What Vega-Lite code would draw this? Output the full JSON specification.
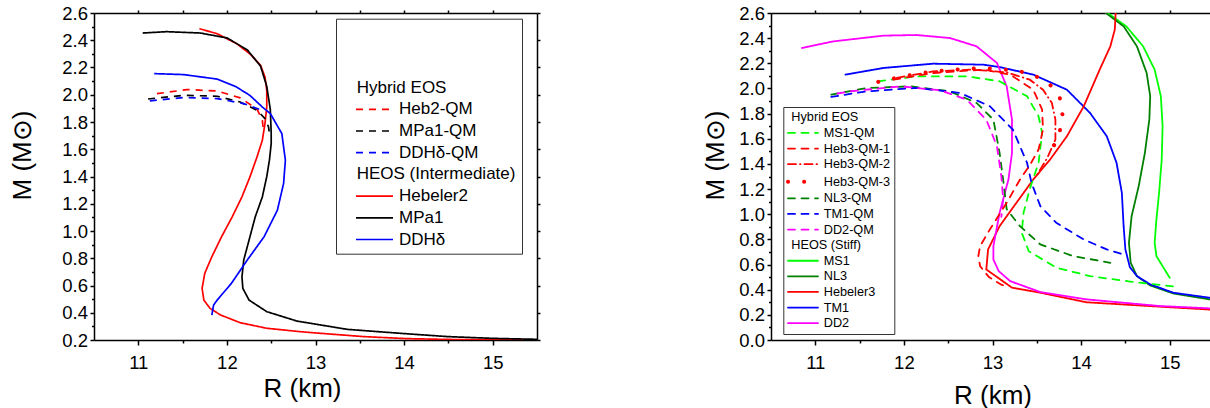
{
  "$schema": "https://vega.github.io/schema/vega-lite/v6.json",
  "padding": {"left": 9, "top": 4, "right": 0, "bottom": 0},
  "background": "white",
  "config": {
    "view": {"stroke": null},
    "font": "Liberation Sans",
    "axis": {"domainColor": "black", "domainWidth": 1.5, "ticks": true, "tickColor": "black", "tickOpacity": 1, "tickWidth": 1.5, "labelFont": "Liberation Sans", "labelFontSize": 18.5, "labelColor": "black", "titleFont": "Liberation Sans", "titleFontSize": 26, "titleFontWeight": "normal", "titleColor": "black", "grid": false, "labelOverlap": false, "labelFlush": false},
    "legend": {"labelFont": "Liberation Sans", "labelColor": "black", "titleFont": "Liberation Sans", "strokeColor": "#333333", "fillColor": "white", "labelLimit": 400}
  },
  "datasets": {
    "left": [
      {"s": "Hebeler2", "R": 11.69, "M": 2.485}, {"s": "Hebeler2", "R": 11.89, "M": 2.448}, {"s": "Hebeler2", "R": 12.11, "M": 2.375}, {"s": "Hebeler2", "R": 12.26, "M": 2.30}, {"s": "Hebeler2", "R": 12.38, "M": 2.216}, {"s": "Hebeler2", "R": 12.43, "M": 2.13}, {"s": "Hebeler2", "R": 12.45, "M": 2.03}, {"s": "Hebeler2", "R": 12.45, "M": 1.91}, {"s": "Hebeler2", "R": 12.43, "M": 1.79}, {"s": "Hebeler2", "R": 12.40, "M": 1.666}, {"s": "Hebeler2", "R": 12.34, "M": 1.544}, {"s": "Hebeler2", "R": 12.26, "M": 1.397}, {"s": "Hebeler2", "R": 12.17, "M": 1.251}, {"s": "Hebeler2", "R": 12.06, "M": 1.104}, {"s": "Hebeler2", "R": 11.94, "M": 0.958}, {"s": "Hebeler2", "R": 11.83, "M": 0.811}, {"s": "Hebeler2", "R": 11.75, "M": 0.689}, {"s": "Hebeler2", "R": 11.72, "M": 0.579}, {"s": "Hebeler2", "R": 11.74, "M": 0.493}, {"s": "Hebeler2", "R": 11.81, "M": 0.432}, {"s": "Hebeler2", "R": 11.93, "M": 0.383}, {"s": "Hebeler2", "R": 12.15, "M": 0.327}, {"s": "Hebeler2", "R": 12.45, "M": 0.286}, {"s": "Hebeler2", "R": 12.83, "M": 0.261}, {"s": "Hebeler2", "R": 13.0, "M": 0.252}, {"s": "Hebeler2", "R": 13.54, "M": 0.225}, {"s": "Hebeler2", "R": 14.03, "M": 0.21}, {"s": "Hebeler2", "R": 14.6, "M": 0.203}, {"s": "Hebeler2", "R": 15.5, "M": 0.2},
      {"s": "MPa1", "R": 11.05, "M": 2.453}, {"s": "MPa1", "R": 11.32, "M": 2.463}, {"s": "MPa1", "R": 11.70, "M": 2.453}, {"s": "MPa1", "R": 12.0, "M": 2.417}, {"s": "MPa1", "R": 12.23, "M": 2.33}, {"s": "MPa1", "R": 12.38, "M": 2.21}, {"s": "MPa1", "R": 12.45, "M": 2.062}, {"s": "MPa1", "R": 12.49, "M": 1.891}, {"s": "MPa1", "R": 12.50, "M": 1.72}, {"s": "MPa1", "R": 12.50, "M": 1.642}, {"s": "MPa1", "R": 12.48, "M": 1.52}, {"s": "MPa1", "R": 12.45, "M": 1.40}, {"s": "MPa1", "R": 12.40, "M": 1.25}, {"s": "MPa1", "R": 12.32, "M": 1.104}, {"s": "MPa1", "R": 12.25, "M": 0.933}, {"s": "MPa1", "R": 12.19, "M": 0.787}, {"s": "MPa1", "R": 12.17, "M": 0.664}, {"s": "MPa1", "R": 12.18, "M": 0.579}, {"s": "MPa1", "R": 12.25, "M": 0.493}, {"s": "MPa1", "R": 12.45, "M": 0.408}, {"s": "MPa1", "R": 12.79, "M": 0.339}, {"s": "MPa1", "R": 13.36, "M": 0.278}, {"s": "MPa1", "R": 14.0, "M": 0.247}, {"s": "MPa1", "R": 14.49, "M": 0.225}, {"s": "MPa1", "R": 15.0, "M": 0.212}, {"s": "MPa1", "R": 15.5, "M": 0.205},
      {"s": "DDHδ", "R": 11.18, "M": 2.155}, {"s": "DDHδ", "R": 11.51, "M": 2.148}, {"s": "DDHδ", "R": 11.89, "M": 2.115}, {"s": "DDHδ", "R": 12.10, "M": 2.06}, {"s": "DDHδ", "R": 12.26, "M": 1.995}, {"s": "DDHδ", "R": 12.40, "M": 1.91}, {"s": "DDHδ", "R": 12.49, "M": 1.862}, {"s": "DDHδ", "R": 12.62, "M": 1.715}, {"s": "DDHδ", "R": 12.66, "M": 1.52}, {"s": "DDHδ", "R": 12.64, "M": 1.349}, {"s": "DDHδ", "R": 12.57, "M": 1.153}, {"s": "DDHδ", "R": 12.42, "M": 0.958}, {"s": "DDHδ", "R": 12.23, "M": 0.787}, {"s": "DDHδ", "R": 12.05, "M": 0.615}, {"s": "DDHδ", "R": 11.89, "M": 0.493}, {"s": "DDHδ", "R": 11.85, "M": 0.457}, {"s": "DDHδ", "R": 11.83, "M": 0.383},
      {"s": "Heb2-QM", "R": 11.21, "M": 2.008}, {"s": "Heb2-QM", "R": 11.55, "M": 2.038}, {"s": "Heb2-QM", "R": 11.89, "M": 2.028}, {"s": "Heb2-QM", "R": 12.15, "M": 1.977}, {"s": "Heb2-QM", "R": 12.34, "M": 1.895}, {"s": "Heb2-QM", "R": 12.40, "M": 1.813}, {"s": "Heb2-QM", "R": 12.41, "M": 1.752},
      {"s": "MPa1-QM", "R": 11.11, "M": 1.969}, {"s": "MPa1-QM", "R": 11.51, "M": 1.996}, {"s": "MPa1-QM", "R": 11.89, "M": 1.989}, {"s": "MPa1-QM", "R": 12.15, "M": 1.947}, {"s": "MPa1-QM", "R": 12.34, "M": 1.886}, {"s": "MPa1-QM", "R": 12.43, "M": 1.825}, {"s": "MPa1-QM", "R": 12.47, "M": 1.764}, {"s": "MPa1-QM", "R": 12.48, "M": 1.715},
      {"s": "DDHδ-QM", "R": 11.13, "M": 1.955}, {"s": "DDHδ-QM", "R": 11.51, "M": 1.979}, {"s": "DDHδ-QM", "R": 11.89, "M": 1.972}, {"s": "DDHδ-QM", "R": 12.19, "M": 1.935}, {"s": "DDHδ-QM", "R": 12.38, "M": 1.89}
    ],
    "right": [
      {"s": "MS1", "R": 14.30, "M": 2.6}, {"s": "MS1", "R": 14.51, "M": 2.494}, {"s": "MS1", "R": 14.70, "M": 2.335}, {"s": "MS1", "R": 14.83, "M": 2.15}, {"s": "MS1", "R": 14.90, "M": 1.938}, {"s": "MS1", "R": 14.92, "M": 1.70}, {"s": "MS1", "R": 14.91, "M": 1.435}, {"s": "MS1", "R": 14.88, "M": 1.17}, {"s": "MS1", "R": 14.85, "M": 0.958}, {"s": "MS1", "R": 14.83, "M": 0.773}, {"s": "MS1", "R": 14.85, "M": 0.667}, {"s": "MS1", "R": 14.93, "M": 0.575}, {"s": "MS1", "R": 15.0, "M": 0.495},
      {"s": "NL3", "R": 14.28, "M": 2.6}, {"s": "NL3", "R": 14.48, "M": 2.494}, {"s": "NL3", "R": 14.63, "M": 2.335}, {"s": "NL3", "R": 14.74, "M": 2.123}, {"s": "NL3", "R": 14.78, "M": 1.938}, {"s": "NL3", "R": 14.77, "M": 1.752}, {"s": "NL3", "R": 14.72, "M": 1.488}, {"s": "NL3", "R": 14.65, "M": 1.223}, {"s": "NL3", "R": 14.57, "M": 0.984}, {"s": "NL3", "R": 14.54, "M": 0.773}, {"s": "NL3", "R": 14.56, "M": 0.614}, {"s": "NL3", "R": 14.63, "M": 0.508}, {"s": "NL3", "R": 14.78, "M": 0.434}, {"s": "NL3", "R": 15.04, "M": 0.37}, {"s": "NL3", "R": 15.45, "M": 0.323}, {"s": "NL3", "R": 15.5, "M": 0.318},
      {"s": "TM1", "R": 11.34, "M": 2.11}, {"s": "TM1", "R": 11.77, "M": 2.163}, {"s": "TM1", "R": 12.33, "M": 2.197}, {"s": "TM1", "R": 12.90, "M": 2.189}, {"s": "TM1", "R": 13.08, "M": 2.17}, {"s": "TM1", "R": 13.46, "M": 2.11}, {"s": "TM1", "R": 13.84, "M": 1.99}, {"s": "TM1", "R": 14.10, "M": 1.806}, {"s": "TM1", "R": 14.29, "M": 1.62}, {"s": "TM1", "R": 14.40, "M": 1.409}, {"s": "TM1", "R": 14.46, "M": 1.17}, {"s": "TM1", "R": 14.48, "M": 0.905}, {"s": "TM1", "R": 14.50, "M": 0.72}, {"s": "TM1", "R": 14.55, "M": 0.58}, {"s": "TM1", "R": 14.63, "M": 0.508}, {"s": "TM1", "R": 14.78, "M": 0.442}, {"s": "TM1", "R": 15.04, "M": 0.376}, {"s": "TM1", "R": 15.45, "M": 0.336}, {"s": "TM1", "R": 15.5, "M": 0.333},
      {"s": "Hebeler3", "R": 14.39, "M": 2.6}, {"s": "Hebeler3", "R": 14.38, "M": 2.467}, {"s": "Hebeler3", "R": 14.33, "M": 2.335}, {"s": "Hebeler3", "R": 14.21, "M": 2.15}, {"s": "Hebeler3", "R": 14.03, "M": 1.858}, {"s": "Hebeler3", "R": 13.84, "M": 1.62}, {"s": "Hebeler3", "R": 13.65, "M": 1.435}, {"s": "Hebeler3", "R": 13.46, "M": 1.276}, {"s": "Hebeler3", "R": 13.27, "M": 1.091}, {"s": "Hebeler3", "R": 13.08, "M": 0.905}, {"s": "Hebeler3", "R": 12.95, "M": 0.72}, {"s": "Hebeler3", "R": 12.93, "M": 0.561}, {"s": "Hebeler3", "R": 13.22, "M": 0.416}, {"s": "Hebeler3", "R": 13.54, "M": 0.376}, {"s": "Hebeler3", "R": 14.06, "M": 0.30}, {"s": "Hebeler3", "R": 14.89, "M": 0.265}, {"s": "Hebeler3", "R": 15.5, "M": 0.24},
      {"s": "DD2", "R": 10.85, "M": 2.322}, {"s": "DD2", "R": 11.20, "M": 2.374}, {"s": "DD2", "R": 11.77, "M": 2.42}, {"s": "DD2", "R": 12.14, "M": 2.425}, {"s": "DD2", "R": 12.52, "M": 2.401}, {"s": "DD2", "R": 12.82, "M": 2.335}, {"s": "DD2", "R": 13.05, "M": 2.203}, {"s": "DD2", "R": 13.16, "M": 2.017}, {"s": "DD2", "R": 13.22, "M": 1.752}, {"s": "DD2", "R": 13.22, "M": 1.488}, {"s": "DD2", "R": 13.18, "M": 1.276}, {"s": "DD2", "R": 13.08, "M": 1.011}, {"s": "DD2", "R": 13.01, "M": 0.746}, {"s": "DD2", "R": 13.01, "M": 0.64}, {"s": "DD2", "R": 13.07, "M": 0.548}, {"s": "DD2", "R": 13.20, "M": 0.468}, {"s": "DD2", "R": 13.54, "M": 0.381}, {"s": "DD2", "R": 14.06, "M": 0.323}, {"s": "DD2", "R": 14.89, "M": 0.27}, {"s": "DD2", "R": 15.5, "M": 0.25},
      {"s": "MS1-QM", "R": 11.71, "M": 2.057}, {"s": "MS1-QM", "R": 12.14, "M": 2.096}, {"s": "MS1-QM", "R": 12.71, "M": 2.096}, {"s": "MS1-QM", "R": 13.08, "M": 2.057}, {"s": "MS1-QM", "R": 13.39, "M": 1.938}, {"s": "MS1-QM", "R": 13.52, "M": 1.779}, {"s": "MS1-QM", "R": 13.56, "M": 1.647}, {"s": "MS1-QM", "R": 13.52, "M": 1.409}, {"s": "MS1-QM", "R": 13.42, "M": 1.20}, {"s": "MS1-QM", "R": 13.35, "M": 1.011}, {"s": "MS1-QM", "R": 13.33, "M": 0.853}, {"s": "MS1-QM", "R": 13.41, "M": 0.706}, {"s": "MS1-QM", "R": 13.72, "M": 0.575}, {"s": "MS1-QM", "R": 14.10, "M": 0.508}, {"s": "MS1-QM", "R": 14.55, "M": 0.465}, {"s": "MS1-QM", "R": 15.05, "M": 0.425},
      {"s": "NL3-QM", "R": 11.18, "M": 1.951}, {"s": "NL3-QM", "R": 11.58, "M": 2.004}, {"s": "NL3-QM", "R": 12.07, "M": 2.017}, {"s": "NL3-QM", "R": 12.52, "M": 1.977}, {"s": "NL3-QM", "R": 12.82, "M": 1.885}, {"s": "NL3-QM", "R": 13.01, "M": 1.752}, {"s": "NL3-QM", "R": 13.08, "M": 1.488}, {"s": "NL3-QM", "R": 13.12, "M": 1.276}, {"s": "NL3-QM", "R": 13.16, "M": 1.04}, {"s": "NL3-QM", "R": 13.31, "M": 0.905}, {"s": "NL3-QM", "R": 13.54, "M": 0.76}, {"s": "NL3-QM", "R": 13.91, "M": 0.667}, {"s": "NL3-QM", "R": 14.33, "M": 0.614},
      {"s": "TM1-QM", "R": 11.18, "M": 1.933}, {"s": "TM1-QM", "R": 11.58, "M": 1.977}, {"s": "TM1-QM", "R": 12.14, "M": 2.004}, {"s": "TM1-QM", "R": 12.63, "M": 1.965}, {"s": "TM1-QM", "R": 12.97, "M": 1.859}, {"s": "TM1-QM", "R": 13.23, "M": 1.673}, {"s": "TM1-QM", "R": 13.39, "M": 1.409}, {"s": "TM1-QM", "R": 13.44, "M": 1.25}, {"s": "TM1-QM", "R": 13.54, "M": 1.064}, {"s": "TM1-QM", "R": 13.72, "M": 0.932}, {"s": "TM1-QM", "R": 14.03, "M": 0.799}, {"s": "TM1-QM", "R": 14.29, "M": 0.72}, {"s": "TM1-QM", "R": 14.48, "M": 0.68},
      {"s": "DD2-QM", "R": 11.25, "M": 1.96}, {"s": "DD2-QM", "R": 11.39, "M": 1.977}, {"s": "DD2-QM", "R": 11.96, "M": 2.017}, {"s": "DD2-QM", "R": 12.41, "M": 1.985}, {"s": "DD2-QM", "R": 12.71, "M": 1.911}, {"s": "DD2-QM", "R": 12.93, "M": 1.752}, {"s": "DD2-QM", "R": 13.05, "M": 1.541}, {"s": "DD2-QM", "R": 13.10, "M": 1.302}, {"s": "DD2-QM", "R": 13.12, "M": 1.117}, {"s": "DD2-QM", "R": 13.10, "M": 0.98},
      {"s": "Heb3-QM-1", "R": 11.88, "M": 2.07}, {"s": "Heb3-QM-1", "R": 12.33, "M": 2.123}, {"s": "Heb3-QM-1", "R": 12.90, "M": 2.15}, {"s": "Heb3-QM-1", "R": 13.20, "M": 2.11}, {"s": "Heb3-QM-1", "R": 13.46, "M": 1.99}, {"s": "Heb3-QM-1", "R": 13.56, "M": 1.832}, {"s": "Heb3-QM-1", "R": 13.57, "M": 1.673}, {"s": "Heb3-QM-1", "R": 13.52, "M": 1.515}, {"s": "Heb3-QM-1", "R": 13.43, "M": 1.40}, {"s": "Heb3-QM-1", "R": 13.31, "M": 1.276}, {"s": "Heb3-QM-1", "R": 13.16, "M": 1.091}, {"s": "Heb3-QM-1", "R": 12.97, "M": 0.879}, {"s": "Heb3-QM-1", "R": 12.86, "M": 0.746}, {"s": "Heb3-QM-1", "R": 12.84, "M": 0.667}, {"s": "Heb3-QM-1", "R": 12.86, "M": 0.587}, {"s": "Heb3-QM-1", "R": 12.96, "M": 0.50}, {"s": "Heb3-QM-1", "R": 13.10, "M": 0.44}, {"s": "Heb3-QM-1", "R": 13.18, "M": 0.42},
      {"s": "Heb3-QM-2", "R": 11.92, "M": 2.084}, {"s": "Heb3-QM-2", "R": 12.33, "M": 2.136}, {"s": "Heb3-QM-2", "R": 12.78, "M": 2.15}, {"s": "Heb3-QM-2", "R": 13.16, "M": 2.128}, {"s": "Heb3-QM-2", "R": 13.42, "M": 2.07}, {"s": "Heb3-QM-2", "R": 13.57, "M": 1.99}, {"s": "Heb3-QM-2", "R": 13.67, "M": 1.885}, {"s": "Heb3-QM-2", "R": 13.71, "M": 1.752}, {"s": "Heb3-QM-2", "R": 13.71, "M": 1.594}, {"s": "Heb3-QM-2", "R": 13.62, "M": 1.45}, {"s": "Heb3-QM-2", "R": 13.50, "M": 1.31},
      {"s": "Heb3-QM-3", "R": 11.71, "M": 2.052}, {"s": "Heb3-QM-3", "R": 11.96, "M": 2.092}, {"s": "Heb3-QM-3", "R": 12.26, "M": 2.128}, {"s": "Heb3-QM-3", "R": 12.48, "M": 2.144}, {"s": "Heb3-QM-3", "R": 12.67, "M": 2.155}, {"s": "Heb3-QM-3", "R": 12.90, "M": 2.163}, {"s": "Heb3-QM-3", "R": 13.27, "M": 2.142}, {"s": "Heb3-QM-3", "R": 13.46, "M": 2.11}, {"s": "Heb3-QM-3", "R": 13.65, "M": 2.03}, {"s": "Heb3-QM-3", "R": 13.76, "M": 1.925}, {"s": "Heb3-QM-3", "R": 13.79, "M": 1.792}, {"s": "Heb3-QM-3", "R": 13.76, "M": 1.66}, {"s": "Heb3-QM-3", "R": 13.69, "M": 1.54}, {"s": "Heb3-QM-3", "R": 13.62, "M": 1.44}
    ]
  },
  "spacing": 234,
  "bounds": "flush",
  "resolve": {"scale": {"color": "independent", "strokeDash": "independent"}},
  "hconcat": [
    {
      "width": 443, "height": 327,
      "data": {"name": "left"},
      "resolve": {"axis": {"x": "independent", "y": "independent"}},
      "layer": [
        {
          "mark": {"type": "line", "strokeWidth": 1.7, "clip": true},
          "encoding": {
            "x": {"field": "R", "type": "quantitative", "scale": {"domain": [10.5, 15.5], "nice": false, "zero": false},
              "axis": {"orient": "bottom", "values": [11, 12, 13, 14, 15], "format": "d", "tickSize": 5, "labelPadding": 8,
                "title": "R (km)", "titleX": 208, "titleY": 48, "titleBaseline": "middle", "titleAlign": "center"}},
            "y": {"field": "M", "type": "quantitative", "scale": {"domain": [0.2, 2.6], "nice": false, "zero": false},
              "axis": {"orient": "left", "values": [0.2, 0.4, 0.6, 0.8, 1.0, 1.2, 1.4, 1.6, 1.8, 2.0, 2.2, 2.4, 2.6], "format": ".1f",
                "tickSize": 4, "labelPadding": 2.5,
                "title": "M (M⊙)", "titleX": -72, "titleY": 142, "titleBaseline": "middle", "titleAlign": "center", "titleAngle": 270}},
            "color": {"field": "s", "type": "nominal",
              "scale": {"domain": ["Hybrid EOS", "Heb2-QM", "MPa1-QM", "DDHδ-QM", "HEOS (Intermediate)", "Hebeler2", "MPa1", "DDHδ"],
                "range": ["transparent", "#ff0000", "#000000", "#0000ff", "transparent", "#ff0000", "#000000", "#0000ff"]},
              "legend": {"orient": "none", "legendX": 242, "legendY": 5.7, "direction": "vertical",
                "title": " ", "titleFontSize": 17, "titlePadding": 37.4,
                "symbolType": "M-4.625,0H4.625", "symbolSize": 64, "symbolStrokeWidth": 1.7,
                "symbolOffset": 24, "labelOffset": 16, "labelFontSize": 17, "padding": 6, "rowPadding": 3.7,
                "encode": {"labels": {"update": {"dx": {"signal": "datum.value === 'Hybrid EOS' || datum.value === 'HEOS (Intermediate)' ? -42.3 : 0"}}}}}},
            "strokeDash": {"field": "s", "type": "nominal",
              "scale": {"domain": ["Hybrid EOS", "Heb2-QM", "MPa1-QM", "DDHδ-QM", "HEOS (Intermediate)", "Hebeler2", "MPa1", "DDHδ"],
                "range": [[1, 0], [7, 6], [7, 6], [7, 6], [1, 0], [1, 0], [1, 0], [1, 0]]}},
            "order": {"value": null}
          }
        },
        {
          "mark": {"type": "point", "opacity": 0},
          "encoding": {
            "x": {"field": "R", "type": "quantitative",
              "axis": {"orient": "bottom", "values": [11.5, 12.5, 13.5, 14.5], "labels": false, "domain": false, "title": null, "tickSize": 3}},
            "y": {"field": "M", "type": "quantitative",
              "axis": {"orient": "left", "values": [0.3, 0.5, 0.7, 0.9, 1.1, 1.3, 1.5, 1.7, 1.9, 2.1, 2.3, 2.5], "labels": false, "domain": false, "title": null, "tickSize": 2.5}}
          }
        },
        {
          "mark": {"type": "point", "opacity": 0},
          "encoding": {
            "x": {"field": "R", "type": "quantitative",
              "axis": {"orient": "top", "values": [11, 11.5, 12, 12.5, 13, 13.5, 14, 14.5, 15], "labels": false, "title": null, "tickSize": 3}},
            "y": {"field": "M", "type": "quantitative",
              "axis": {"orient": "right", "values": [0.2, 0.4, 0.6, 0.8, 1.0, 1.2, 1.4, 1.6, 1.8, 2.0, 2.2, 2.4, 2.6], "labels": false, "title": null, "tickSize": 3}}
          }
        }
      ]
    },
    {
      "width": 443, "height": 327,
      "data": {"name": "right"},
      "resolve": {"axis": {"x": "independent", "y": "independent"}},
      "layer": [
        {
          "mark": {"type": "line", "strokeCap": "round", "clip": true},
          "encoding": {
            "x": {"field": "R", "type": "quantitative", "scale": {"domain": [10.5, 15.5], "nice": false, "zero": false},
              "axis": {"orient": "bottom", "values": [11, 12, 13, 14, 15], "format": "d", "tickSize": 5, "labelPadding": 8,
                "title": "R (km)", "titleY": 55, "titleBaseline": "middle", "titleAlign": "center"}},
            "y": {"field": "M", "type": "quantitative", "scale": {"domain": [0, 2.6], "nice": false, "zero": false},
              "axis": {"orient": "left", "values": [0, 0.2, 0.4, 0.6, 0.8, 1.0, 1.2, 1.4, 1.6, 1.8, 2.0, 2.2, 2.4, 2.6], "format": ".1f",
                "tickSize": 4, "labelPadding": 2.5,
                "title": "M (M⊙)", "titleX": -56, "titleY": 142, "titleBaseline": "middle", "titleAlign": "center", "titleAngle": 270}},
            "color": {"field": "s", "type": "nominal",
              "scale": {"domain": ["Hybrid EOS", "MS1-QM", "Heb3-QM-1", "Heb3-QM-2", "Heb3-QM-3", "NL3-QM", "TM1-QM", "DD2-QM", "HEOS (Stiff)", "MS1", "NL3", "Hebeler3", "TM1", "DD2"],
                "range": ["transparent", "#00ff00", "#ff0000", "#ff0000", "#ff0000", "#008000", "#0000ff", "#ff00ff", "transparent", "#00ff00", "#008000", "#ff0000", "#0000ff", "#ff00ff"]},
              "legend": {"orient": "none", "legendX": 12.3, "legendY": 94, "direction": "vertical", "title": null,
                "symbolType": "M-3.75,0H3.75", "symbolSize": 64, "symbolStrokeWidth": 1.8,
                "symbolOffset": 9.35, "labelOffset": 14.4, "labelFontSize": 12.7, "padding": 4, "rowPadding": 1.6,
                "encode": {"labels": {"update": {"dx": {"signal": "datum.value === 'Hybrid EOS' || datum.value === 'HEOS (Stiff)' ? -32.4 : 0"}}},
                  "symbols": {"update": {"strokeWidth": {"signal": "datum.value === 'Heb3-QM-3' ? 4 : 1.8"}, "strokeCap": {"value": "round"}}}}}},
            "strokeDash": {"field": "s", "type": "nominal",
              "scale": {"domain": ["Hybrid EOS", "MS1-QM", "Heb3-QM-1", "Heb3-QM-2", "Heb3-QM-3", "NL3-QM", "TM1-QM", "DD2-QM", "HEOS (Stiff)", "MS1", "NL3", "Hebeler3", "TM1", "DD2"],
                "range": [[1, 0], [7, 6.5], [7, 6.5], [8, 4, 0.5, 4], [0.1, 16], [7, 6.5], [7, 6.5], [7, 6.5], [1, 0], [1, 0], [1, 0], [1, 0], [1, 0], [1, 0]]}},
            "strokeWidth": {"condition": {"test": "datum.s === 'Heb3-QM-3'", "value": 4}, "value": 1.8},
            "order": {"value": null}
          }
        },
        {
          "mark": {"type": "point", "opacity": 0},
          "encoding": {
            "x": {"field": "R", "type": "quantitative",
              "axis": {"orient": "bottom", "values": [11.5, 12.5, 13.5, 14.5], "labels": false, "domain": false, "title": null, "tickSize": 3}},
            "y": {"field": "M", "type": "quantitative",
              "axis": {"orient": "left", "values": [0.1, 0.3, 0.5, 0.7, 0.9, 1.1, 1.3, 1.5, 1.7, 1.9, 2.1, 2.3, 2.5], "labels": false, "domain": false, "title": null, "tickSize": 2.5}}
          }
        },
        {
          "mark": {"type": "point", "opacity": 0},
          "encoding": {
            "x": {"field": "R", "type": "quantitative",
              "axis": {"orient": "top", "values": [11, 11.5, 12, 12.5, 13, 13.5, 14, 14.5, 15], "labels": false, "title": null, "tickSize": 3}},
            "y": {"field": "M", "type": "quantitative",
              "axis": {"orient": "right", "values": [0.2, 0.4, 0.6, 0.8, 1.0, 1.2, 1.4, 1.6, 1.8, 2.0, 2.2, 2.4], "labels": false, "title": null, "tickSize": 3}}
          }
        }
      ]
    }
  ]
}
